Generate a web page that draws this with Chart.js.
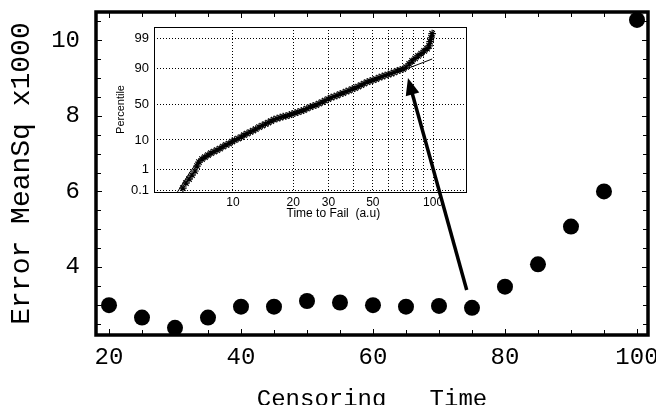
<!DOCTYPE html>
<html lang="en">
<head>
<meta charset="UTF-8">
<title>Error vs Censoring Time</title>
<script src="https://cdn.jsdelivr.net/npm/chart.js"></script>
<style>
  body { margin: 0; background: #fff; }
  .wrap { position: relative; width: 656px; height: 405px; overflow: hidden; }
  #mainChart { position: absolute; left: 0; top: 0; z-index: 2; }
  #insetChart { position: absolute; left: 100px; top: 20px; z-index: 1; }
</style>
</head>
<body>
<div class="wrap">
  <canvas id="insetChart" width="380" height="205"></canvas>
  <canvas id="mainChart" width="656" height="405"></canvas>
</div>
<script>
// main plot
const censorTimes = [20, 25, 30, 35, 40, 45, 50, 55, 60, 65, 70, 75, 80, 85, 90, 95, 100];
const errorMeanSq = [2.99, 2.66, 2.39, 2.66, 2.95, 2.95, 3.10, 3.06, 2.99, 2.95, 2.97, 2.92, 3.48, 4.07, 5.07, 6.0, 10.54];
const xTicks = [20, 25, 30, 35, 40, 45, 50, 55, 60, 65, 70, 75, 80, 85, 90, 95, 100];
const xTickLabels = [20, 40, 60, 80, 100];
const yTicks = [2.5, 3, 3.5, 4, 4.5, 5, 5.5, 6, 6.5, 7, 7.5, 8, 8.5, 9, 9.5, 10, 10.5];
const yTickLabels = [4, 6, 8, 10];
// arrow, in main plot data units (tail, head)
const arrowFrom = [74.2, 3.39];
const arrowTo = [65.3, 9.0];

// inset: probability plot
const failTimes = [5.62, 5.82, 6.03, 6.24, 6.46, 6.61, 6.76, 7.0, 7.24, 7.5,
  7.76, 8.04, 8.32, 8.61, 8.91, 9.23, 9.55, 9.89, 10.2, 10.6,
  11.0, 11.35, 11.75, 12.2, 12.6, 13.0, 13.5, 14.0, 14.5, 15.0,
  15.5, 16.0, 16.6, 17.2, 17.8, 18.4, 19.1, 19.7, 20.4, 21.1,
  21.9, 22.6, 23.4, 24.3, 25.1, 26.0, 26.9, 27.9, 28.8, 29.9,
  30.9, 32.0, 33.1, 34.3, 35.5, 36.7, 38.0, 39.4, 40.7, 42.2,
  43.7, 45.2, 46.8, 48.4, 50.1, 51.9, 53.7, 55.6, 57.5, 59.6,
  61.7, 63.8, 66.1, 68.4, 70.8, 73.3, 75.9, 78.5, 81.3, 84.1,
  87.1, 90.2, 93.3, 95.5, 96.6, 97.7, 98.9];
const failPercent = [0.135, 0.24, 0.37, 0.56, 0.84, 1.34, 1.92, 2.48, 2.92, 3.43,
  4.0, 4.5, 5.0, 5.6, 6.45, 7.2, 7.9, 9.0, 9.9, 10.9,
  11.9, 13.4, 14.6, 15.9, 17.2, 18.6, 20.6, 22.1, 23.8, 25.4,
  27.2, 29.0, 30.2, 31.5, 32.8, 33.4, 34.7, 36.1, 37.4, 38.7,
  40.1, 41.5, 43.6, 45.7, 47.2, 48.6, 50.7, 52.8, 55.0, 57.1,
  59.2, 60.6, 61.9, 64.0, 65.3, 67.2, 68.5, 70.4, 71.6, 73.4,
  75.1, 76.8, 78.4, 79.4, 80.4, 81.4, 82.8, 83.7, 84.6, 85.4,
  86.2, 87.0, 88.1, 88.8, 89.4, 90.7, 92.4, 93.8, 94.8, 95.7,
  96.4, 97.1, 97.6, 98.1, 98.7, 99.1, 99.4];
const fitTimes = [5.28, 6.10, 6.84, 8.61, 12.2, 17.2, 24.3, 34.3, 48.4, 68.4, 76.7, 98.9];
const fitPercent = [0.085, 0.76, 2.6, 5.6, 15.9, 31.5, 45.7, 64.0, 79.4, 88.4, 90.4, 94.6];
const pctTicks = [0.1, 1, 10, 50, 90, 99];
const timeGrid = [10, 20, 30, 40, 50, 60, 70, 80, 90, 100];
const timeTickLabels = [10, 20, 30, 50, 100];

const MONO = "'Liberation Mono', 'Courier New', monospace";
const SANS = "'Liberation Sans', Arial, sans-serif";
const NARROW = "'Liberation Sans Narrow', 'Liberation Sans', Arial, sans-serif";

// normal quantile, used for the percentile (probability paper) axis
function probit(p) {
  const a = [-39.69683028665376, 220.9460984245205, -275.9285104469687, 138.3577518672690, -30.66479806614716, 2.506628277459239];
  const b = [-54.47609879822406, 161.5858368580409, -155.6989798598866, 66.80131188771972, -13.28068155288572];
  const c = [-0.007784894002430293, -0.3223964580411365, -2.400758277161838, -2.549732539343734, 4.374664141464968, 2.938163982698783];
  const d = [0.007784695709041462, 0.3224671290700398, 2.445134137142996, 3.754408661907416];
  const pl = 0.02425;
  if (p < pl) {
    const q = Math.sqrt(-2 * Math.log(p));
    return (((((c[0]*q+c[1])*q+c[2])*q+c[3])*q+c[4])*q+c[5]) / ((((d[0]*q+d[1])*q+d[2])*q+d[3])*q+1);
  }
  if (p > 1 - pl) {
    const q = Math.sqrt(-2 * Math.log(1 - p));
    return -(((((c[0]*q+c[1])*q+c[2])*q+c[3])*q+c[4])*q+c[5]) / ((((d[0]*q+d[1])*q+d[2])*q+d[3])*q+1);
  }
  const q = p - 0.5, r = q * q;
  return (((((a[0]*r+a[1])*r+a[2])*r+a[3])*r+a[4])*r+a[5])*q / (((((b[0]*r+b[1])*r+b[2])*r+b[3])*r+b[4])*r+1);
}

// keep the plot box where it is, labels may hang over the edge
function fixWidth(w) {
  return s => { s.width = w; s.paddingTop = 0; s.paddingBottom = 0; };
}
function fixHeight(h) {
  return s => { s.height = h; s.paddingLeft = 0; s.paddingRight = 0; };
}

// thick frame, inward ticks on all four sides, and the arrow
const mainFrame = {
  id: 'mainFrame',
  afterDraw(chart) {
    const {ctx, chartArea: a, scales: {x, y}} = chart;
    ctx.save();
    ctx.strokeStyle = '#000';
    ctx.lineWidth = 1;
    ctx.beginPath();
    xTicks.forEach(v => {
      const px = Math.round(x.getPixelForValue(v)) + 0.5;
      const len = xTickLabels.includes(v) ? 6 : 5;
      ctx.moveTo(px, a.bottom); ctx.lineTo(px, a.bottom - len);
      ctx.moveTo(px, a.top); ctx.lineTo(px, a.top + len);
    });
    yTicks.forEach(v => {
      const py = Math.round(y.getPixelForValue(v)) + 0.5;
      const len = yTickLabels.includes(v) ? 6 : 5;
      ctx.moveTo(a.left, py); ctx.lineTo(a.left + len, py);
      ctx.moveTo(a.right, py); ctx.lineTo(a.right - len, py);
    });
    ctx.stroke();
    ctx.lineWidth = 3.5;
    ctx.strokeRect(a.left, a.top, a.right - a.left, a.bottom - a.top);

    // arrow
    const x0 = x.getPixelForValue(arrowFrom[0]), y0 = y.getPixelForValue(arrowFrom[1]);
    const x1 = x.getPixelForValue(arrowTo[0]), y1 = y.getPixelForValue(arrowTo[1]);
    const ang = Math.atan2(y1 - y0, x1 - x0);
    const headLen = 17, headW = 7;
    const bx = x1 - Math.cos(ang) * headLen, by = y1 - Math.sin(ang) * headLen;
    ctx.lineWidth = 3.5;
    ctx.beginPath();
    ctx.moveTo(x0, y0);
    ctx.lineTo(bx + Math.cos(ang) * 2, by + Math.sin(ang) * 2);
    ctx.stroke();
    ctx.fillStyle = '#000';
    ctx.beginPath();
    ctx.moveTo(x1, y1);
    ctx.lineTo(bx - Math.sin(ang) * headW, by + Math.cos(ang) * headW);
    ctx.lineTo(bx + Math.sin(ang) * headW, by - Math.cos(ang) * headW);
    ctx.closePath();
    ctx.fill();
    ctx.restore();
  }
};

new Chart(document.getElementById('mainChart'), {
  type: 'scatter',
  data: {
    datasets: [{
      data: censorTimes.map((t, i) => ({x: t, y: errorMeanSq[i]})),
      pointRadius: 8,
      pointHoverRadius: 8,
      backgroundColor: '#000',
      borderColor: '#000',
      borderWidth: 0,
      clip: false
    }]
  },
  options: {
    responsive: false,
    animation: false,
    layout: {padding: {left: 0, top: 12, right: 8, bottom: 0}},
    plugins: {legend: {display: false}, tooltip: {enabled: false}},
    scales: {
      x: {
        type: 'linear',
        min: 18.03,
        max: 101.67,
        afterBuildTicks: s => { s.ticks = xTicks.map(v => ({value: v})); },
        afterFit: fixHeight(70),
        grid: {display: false, drawTicks: false},
        border: {display: false},
        ticks: {
          padding: 8, autoSkip: false, maxRotation: 0, color: '#000',
          font: {family: MONO, size: 24},
          callback: v => xTickLabels.includes(v) ? String(v) : ''
        },
        title: {
          display: true, text: 'Censoring   Time', color: '#000',
          font: {family: MONO, size: 24, lineHeight: 1},
          padding: {top: 0, bottom: -7}
        }
      },
      y: {
        type: 'linear',
        min: 2.2,
        max: 10.75,
        afterBuildTicks: s => { s.ticks = yTicks.map(v => ({value: v})); },
        afterFit: fixWidth(96),
        grid: {display: false, drawTicks: false},
        border: {display: false},
        ticks: {
          padding: 16, autoSkip: false, color: '#000',
          font: {family: MONO, size: 24},
          callback: v => yTickLabels.includes(v) ? String(v) : ''
        },
        title: {
          display: true, text: 'Error MeanSq x1000', color: '#000',
          font: {family: MONO, size: 28, lineHeight: 1},
          padding: {top: 8, bottom: 0}
        }
      }
    }
  },
  plugins: [mainFrame]
});

// inset frame (solid, thin)
const insetFrame = {
  id: 'insetFrame',
  afterDraw(chart) {
    const {ctx, chartArea: a} = chart;
    ctx.save();
    ctx.strokeStyle = '#000';
    ctx.lineWidth = 1;
    ctx.strokeRect(Math.round(a.left) + 0.5, Math.round(a.top) + 0.5,
      Math.round(a.right - a.left), Math.round(a.bottom - a.top));
    ctx.restore();
  }
};

new Chart(document.getElementById('insetChart'), {
  type: 'scatter',
  data: {
    datasets: [{
      data: fitTimes.map((t, i) => ({x: t, y: probit(fitPercent[i] / 100)})),
      showLine: true,
      borderColor: '#000',
      borderWidth: 1,
      pointRadius: 0,
      tension: 0
    }, {
      data: failTimes.map((t, i) => ({x: t, y: probit(failPercent[i] / 100)})),
      pointStyle: 'star',
      pointRadius: 3.8,
      pointHoverRadius: 3.8,
      borderColor: '#000',
      backgroundColor: '#000',
      borderWidth: 1.2
    }]
  },
  options: {
    responsive: false,
    animation: false,
    layout: {padding: {left: 0, top: 7, right: 14, bottom: 0}},
    plugins: {legend: {display: false}, tooltip: {enabled: false}},
    scales: {
      x: {
        type: 'logarithmic',
        min: 4.03,
        max: 146,
        afterBuildTicks: s => { s.ticks = timeGrid.map(v => ({value: v})); },
        afterFit: fixHeight(33),
        grid: {color: '#000', lineWidth: 1, drawTicks: false},
        border: {display: false, dash: [1, 2]},
        ticks: {
          padding: 3, autoSkip: false, maxRotation: 0, color: '#000',
          font: {family: NARROW, size: 12},
          callback: v => timeTickLabels.includes(v) ? String(v) : ''
        },
        title: {
          display: true, text: '              Time to Fail  (a.u)', color: '#000',
          font: {family: NARROW, size: 12, lineHeight: 1},
          padding: {top: 0, bottom: 5}
        }
      },
      y: {
        type: 'linear',
        min: -3.14,
        max: 2.75,
        afterBuildTicks: s => { s.ticks = pctTicks.map(p => ({value: probit(p / 100)})); },
        afterFit: fixWidth(54),
        grid: {color: '#000', lineWidth: 1, drawTicks: false},
        border: {display: false, dash: [1, 2]},
        ticks: {
          padding: 5, autoSkip: false, color: '#000',
          font: {family: SANS, size: 13},
          callback: (v, i) => String(pctTicks[i])
        },
        title: {
          display: true, text: 'Percentile', color: '#000',
          font: {family: SANS, size: 11, lineHeight: 1},
          padding: {top: 15, bottom: 0}
        }
      }
    }
  },
  plugins: [insetFrame]
});
</script>
</body>
</html>
